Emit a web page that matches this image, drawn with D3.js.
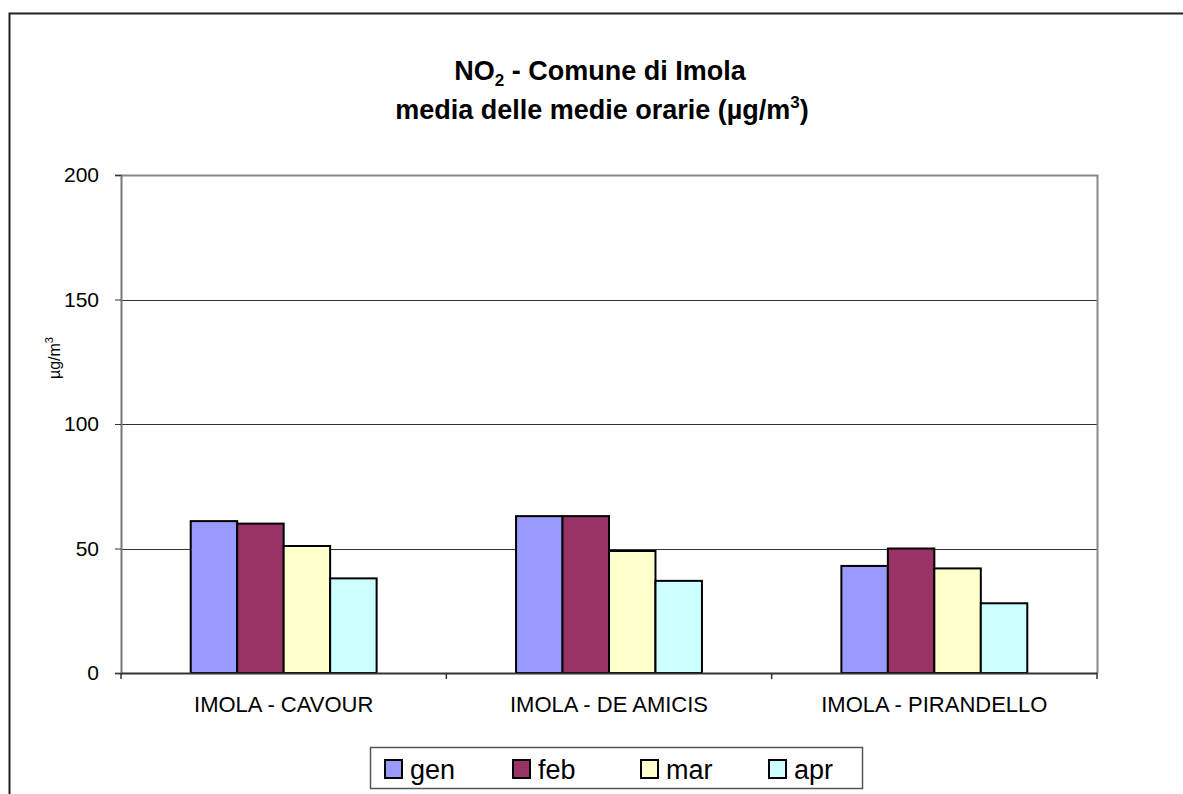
<!DOCTYPE html>
<html>
<head>
<meta charset="utf-8">
<script src="https://cdn.jsdelivr.net/npm/d3@7"></script>
<style>
  body { margin: 0; background: #fff; }
  svg { font-family: "Liberation Sans", Arial, sans-serif; }
</style>
</head>
<body>
<div id="chart"></div>
<script>
// --- data ---
const stations = ["IMOLA - CAVOUR", "IMOLA - DE AMICIS", "IMOLA - PIRANDELLO"];
const months = ["gen", "feb", "mar", "apr"];
const gen = [61, 63, 43];
const feb = [60, 63, 50];
const mar = [51, 49, 42];
const apr = [38, 37, 28];
const yTicks = [0, 50, 100, 150, 200];
const monthColors = ["#9999FF", "#993366", "#FFFFCC", "#CCFFFF"];

const series = [gen, feb, mar, apr];
const W = 1183, H = 794;
const plot = { left: 121, right: 1097, top: 175, bottom: 673 };

const svg = d3.select("#chart").append("svg")
    .attr("width", W)
    .attr("height", H);

// outer chart border (runs off the right and bottom of the picture)
svg.append("rect")
    .attr("x", 9.5).attr("y", 13.5)
    .attr("width", 1200).attr("height", 820)
    .attr("fill", "none")
    .attr("stroke", "#222")
    .attr("stroke-width", 2);

const x0 = d3.scaleBand()
    .domain(stations)
    .range([plot.left, plot.right])
    .paddingInner(0)
    .paddingOuter(0);

// Excel-style gap: group occupies 4 of 7 bar widths
const x1 = d3.scaleBand()
    .domain(months)
    .range([x0.bandwidth() * 1.5 / 7, x0.bandwidth() * 5.5 / 7]);

const y = d3.scaleLinear().domain([0, 200]).range([plot.bottom, plot.top]);

// gridlines
svg.append("g")
    .selectAll("line")
    .data(yTicks.filter(d => d > 0 && d < 200))
    .join("line")
    .attr("x1", plot.left).attr("x2", plot.right)
    .attr("y1", d => Math.round(y(d)) + 0.5)
    .attr("y2", d => Math.round(y(d)) + 0.5)
    .attr("stroke", "#333")
    .attr("stroke-width", 1);

// plot frame (top and right gray)
svg.append("path")
    .attr("d", `M${plot.left},${plot.top + 0.5}H${plot.right + 0.5}V${plot.bottom}`)
    .attr("fill", "none")
    .attr("stroke", "#888")
    .attr("stroke-width", 2);

// bars
const groups = svg.append("g")
    .selectAll("g")
    .data(stations)
    .join("g")
    .attr("transform", d => `translate(${x0(d)},0)`);

groups.selectAll("rect")
    .data((d, i) => months.map((m, j) => ({ m, v: series[j][i], c: monthColors[j] })))
    .join("rect")
    .attr("x", d => x1(d.m))
    .attr("y", d => y(d.v))
    .attr("width", x1.bandwidth())
    .attr("height", d => y(0) - y(d.v))
    .attr("fill", d => d.c)
    .attr("stroke", "#000")
    .attr("stroke-width", 2);

// y axis
const yAxis = svg.append("g")
    .attr("transform", `translate(${plot.left},0)`)
    .call(d3.axisLeft(y).tickValues(yTicks).tickSize(6).tickPadding(16));
yAxis.select(".domain").attr("stroke", "#777").attr("stroke-width", 2);
yAxis.selectAll(".tick line").attr("stroke", "#333");
yAxis.selectAll(".tick text")
    .attr("font-family", "Liberation Sans, Arial, sans-serif")
    .attr("font-size", 21)
    .attr("fill", "#000");

// x axis
const xAxis = svg.append("g")
    .attr("transform", `translate(0,${plot.bottom})`)
    .call(d3.axisBottom(x0).tickSize(0).tickPadding(23));
xAxis.select(".domain").attr("stroke", "#333").attr("stroke-width", 2);
xAxis.selectAll(".tick text")
    .attr("font-family", "Liberation Sans, Arial, sans-serif")
    .attr("font-size", 22)
    .attr("fill", "#000");

// category boundary ticks
svg.append("g")
    .selectAll("line")
    .data(stations.map(s => x0(s)).concat([plot.right]))
    .join("line")
    .attr("x1", d => d).attr("x2", d => d)
    .attr("y1", plot.bottom).attr("y2", plot.bottom + 6)
    .attr("stroke", "#333")
    .attr("stroke-width", 1.5);

// y axis label
const yl = svg.append("text")
    .attr("transform", "translate(60,358) rotate(-90)")
    .attr("text-anchor", "middle")
    .attr("font-size", 16);
yl.append("tspan").text("µg/m");
yl.append("tspan").text("3").attr("font-size", 11).attr("dy", -7);

// title
const t1 = svg.append("text")
    .attr("x", 600).attr("y", 80)
    .attr("text-anchor", "middle")
    .attr("font-weight", "bold")
    .attr("font-size", 27);
t1.append("tspan").text("NO");
t1.append("tspan").text("2").attr("font-size", 17).attr("dy", 6);
t1.append("tspan").text(" - Comune di Imola").attr("dy", -6);

const t2 = svg.append("text")
    .attr("x", 602).attr("y", 119)
    .attr("text-anchor", "middle")
    .attr("font-weight", "bold")
    .attr("font-size", 27);
t2.append("tspan").text("media delle medie orarie (µg/m");
t2.append("tspan").text("3").attr("font-size", 17).attr("dy", -11);
t2.append("tspan").text(")").attr("dy", 11);

// legend
const legend = svg.append("g");
legend.append("rect")
    .attr("x", 370.5).attr("y", 747.5)
    .attr("width", 492).attr("height", 41)
    .attr("fill", "#fff")
    .attr("stroke", "#555")
    .attr("stroke-width", 1.5);

const lx = d3.scalePoint().domain(months).range([385, 769]);
const items = legend.selectAll("g")
    .data(months)
    .join("g")
    .attr("transform", d => `translate(${lx(d)},760)`);
items.append("rect")
    .attr("width", 17).attr("height", 18)
    .attr("fill", (d, i) => monthColors[i])
    .attr("stroke", "#000")
    .attr("stroke-width", 2);
items.append("text")
    .attr("x", 25).attr("y", 19)
    .attr("font-size", 27)
    .text(d => d);
</script>
</body>
</html>
